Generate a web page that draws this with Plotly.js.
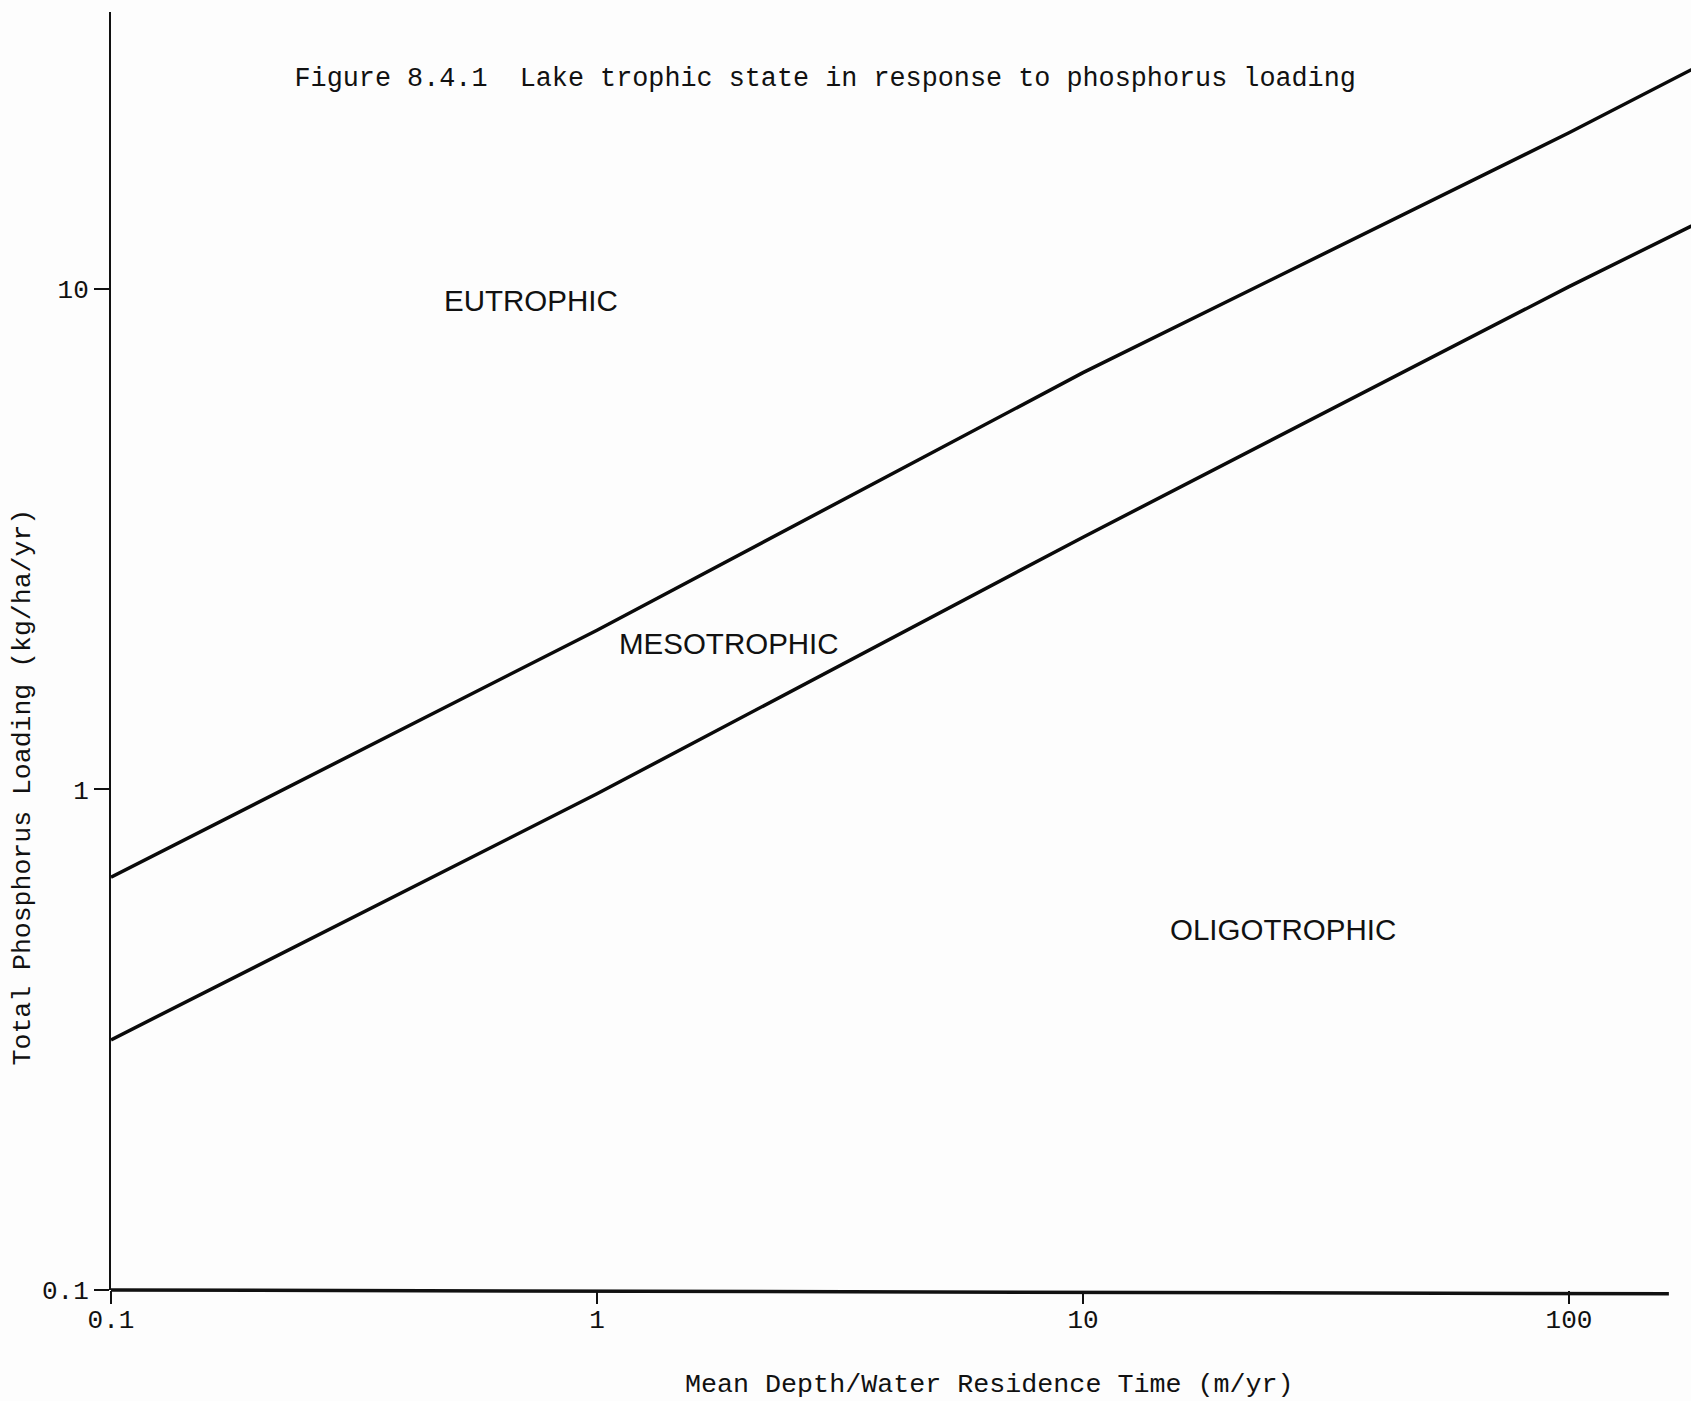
<!DOCTYPE html>
<html>
<head>
<meta charset="utf-8">
<script src="https://cdn.plot.ly/plotly-3.0.1.min.js"></script>
<style>html,body{margin:0;padding:0;background:#fdfdfd;}#chart{width:1691px;height:1401px;}</style>
</head>
<body>
<div id="chart"></div>
<script>
// Data
var depthOverResidence = [0.1, 1, 10, 100, 200];            // m/yr
var eutrophicBoundary  = [0.668, 2.08, 6.8, 20.5, 29.0];     // kg/ha/yr
var oligotrophicBoundary = [0.316, 0.98, 3.19, 10.1, 14.1];  // kg/ha/yr
var xTickVals = [0.1, 1, 10, 100];
var xTickText = ['0.1', '1', '10', '100'];
var yTickVals = [0.1, 1, 10];
var yTickText = ['0.1', '1', '10'];
var zoneLabels = ['EUTROPHIC', 'MESOTROPHIC', 'OLIGOTROPHIC'];
var zoneX = [0.73, 1.87, 25.8];
var zoneY = [9.46, 1.96, 0.524];

var mono = '"Courier New", "Liberation Mono", monospace';
var sans = 'Arial, "Liberation Sans", Helvetica, sans-serif';

var traces = [
  {x: depthOverResidence, y: eutrophicBoundary, mode: 'lines', type: 'scatter',
   line: {color: '#0a0a0a', width: 3.5}, name: 'Eutrophic / mesotrophic', hoverinfo: 'x+y'},
  {x: depthOverResidence, y: oligotrophicBoundary, mode: 'lines', type: 'scatter',
   line: {color: '#0a0a0a', width: 3.5}, name: 'Mesotrophic / oligotrophic', hoverinfo: 'x+y'}
];

var annotations = zoneLabels.map(function (t, i) {
  return {text: t, x: Math.log10(zoneX[i]), y: Math.log10(zoneY[i]), xref: 'x', yref: 'y',
          showarrow: false, xanchor: 'center', yanchor: 'middle',
          font: {family: sans, size: 29.5, color: '#111'}};
});
annotations.push({text: 'Mean Depth/Water Residence Time (m/yr)', xref: 'paper', yref: 'paper',
  x: 0.556, y: -0.0743, xanchor: 'center', yanchor: 'middle', showarrow: false,
  font: {family: mono, size: 26.7, color: '#111'}});
annotations.push({text: 'Total Phosphorus Loading (kg/ha/yr)', xref: 'paper', yref: 'paper',
  x: -0.0551, y: 0.394, xanchor: 'center', yanchor: 'middle', textangle: -90, showarrow: false,
  font: {family: mono, size: 26.5, color: '#111'}});

var layout = {
  width: 1691, height: 1401,
  paper_bgcolor: '#fdfdfd', plot_bgcolor: '#fdfdfd',
  margin: {l: 111, r: 0, t: 12, b: 111},
  showlegend: false,
  title: {text: 'Figure 8.4.1\u00A0\u00A0Lake trophic state in response to phosphorus loading',
          xref: 'container', yref: 'container', x: 0.488, y: 0.945, xanchor: 'center', yanchor: 'middle',
          font: {family: mono, size: 26.8, color: '#111'}},
  xaxis: {type: 'log', range: [-1, 2.251], showgrid: false, zeroline: false, showline: false,
          ticks: 'outside', ticklen: 13, tickwidth: 2, tickcolor: '#111',
          ticklabelstandoff: -7,
          tickmode: 'array', tickvals: xTickVals, ticktext: xTickText,
          tickfont: {family: mono, size: 26, color: '#111'}},
  yaxis: {type: 'log', range: [-1, 1.553], showgrid: false, zeroline: false,
          showline: true, linewidth: 2, linecolor: '#111',
          ticks: 'outside', ticklen: 15, tickwidth: 2, tickcolor: '#111',
          tickmode: 'array', tickvals: yTickVals, ticktext: yTickText,
          tickfont: {family: mono, size: 26, color: '#111'}},
  shapes: [{type: 'line', xref: 'paper', yref: 'paper', x0: 0, x1: 0.986, y0: 0, y1: -0.003,
            line: {color: '#111', width: 3.5}}],
  annotations: annotations
};

Plotly.newPlot('chart', traces, layout, {displayModeBar: false, staticPlot: true});
</script>
</body>
</html>
